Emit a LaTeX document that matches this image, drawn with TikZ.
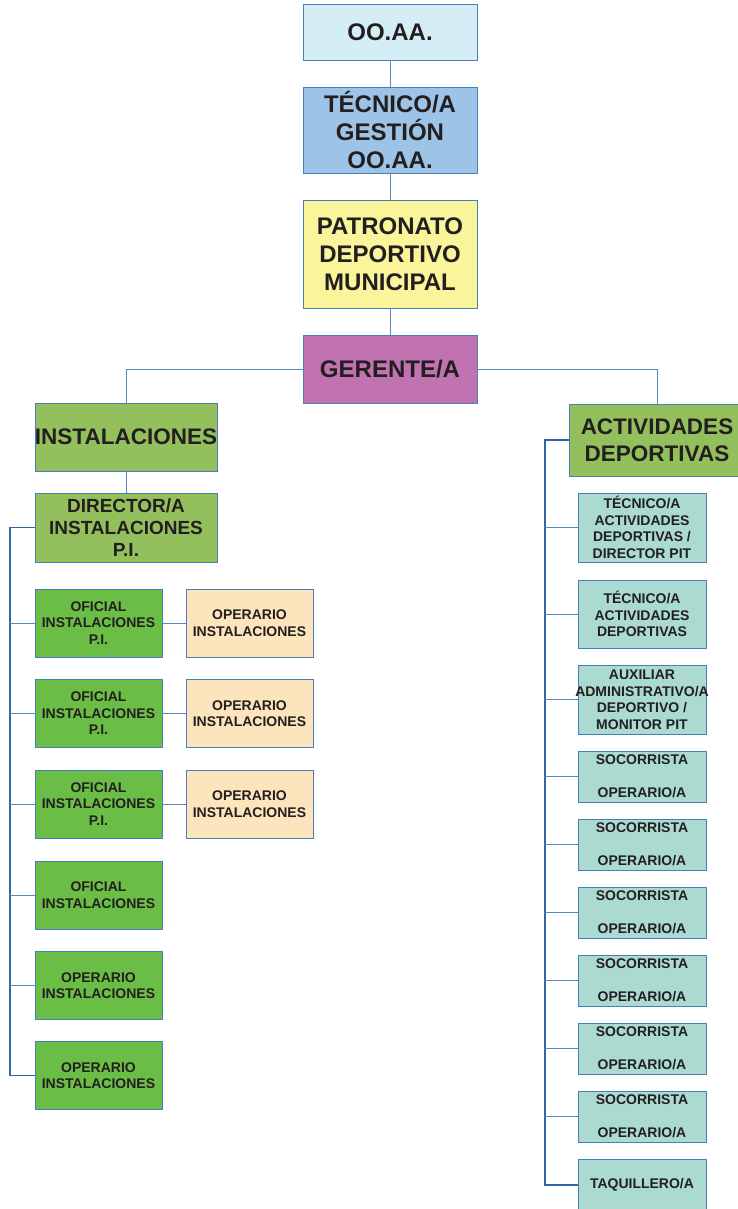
\documentclass[tikz,border=0pt]{standalone}
\usepackage{fontspec}
\setmainfont{Liberation Sans}
\begin{document}
\begin{tikzpicture}[x=1pt,y=-1pt,
  box/.style={draw=bordc, line width=0.8pt, inner sep=0pt, align=center, font=\bfseries, text=txtc},
  big/.style={box, font=\fontsize{24}{28}\selectfont\bfseries},
  mid/.style={box, font=\fontsize{22.5}{27}\selectfont\bfseries},
  dirf/.style={box, font=\fontsize{19}{22}\selectfont\bfseries},
  small/.style={box, font=\fontsize{14}{16.5}\selectfont\bfseries},
  smalltext/.style={inner sep=0pt, align=center, text=txtc, font=\fontsize{14}{16.5}\selectfont\bfseries},
  conn/.style={draw=connc, line width=0.8pt},
  spine/.style={draw=spinec, line width=1.3pt},
  lchild/.style={small, fill=ofic, minimum width=127pt, minimum height=68pt},
  opchild/.style={small, fill=oper, minimum width=127pt, minimum height=68pt},
  rchild/.style={small, fill=teal, minimum width=128pt},
]
\definecolor{bordc}{HTML}{4A7EBB}
\definecolor{connc}{HTML}{5B86C5}
\definecolor{spinec}{HTML}{3465A4}
\definecolor{txtc}{HTML}{231F20}
\definecolor{cyanl}{HTML}{D5EEF5}
\definecolor{bluel}{HTML}{9DC3E6}
\definecolor{yell}{HTML}{FAF59B}
\definecolor{purp}{HTML}{C072B1}
\definecolor{greenm}{HTML}{93BF5C}
\definecolor{ofic}{HTML}{6BBE45}
\definecolor{oper}{HTML}{FCE4BC}
\definecolor{teal}{HTML}{ABDBD0}
\useasboundingbox (0,0) rectangle (737,1209);

\node[big, fill=cyanl, minimum width=174pt, minimum height=56pt] (ooaa) at (390,32) {OO.AA.};
\node[big, fill=bluel, minimum width=174pt, minimum height=86pt] (tec) at (390,130) {TÉCNICO/A\\GESTIÓN\\OO.AA.};
\node[big, fill=yell, minimum width=174pt, minimum height=108pt] (pat) at (390,254) {PATRONATO\\DEPORTIVO\\MUNICIPAL};
\node[big, fill=purp, minimum width=174pt, minimum height=68pt] (ger) at (390,369) {GERENTE/A};
\node[mid, fill=greenm, minimum width=182pt, minimum height=68pt] (inst) at (126,437) {INSTALACIONES};
\node[dirf, fill=greenm, minimum width=182pt, minimum height=69pt] (dir) at (126,527.5) {DIRECTOR/A\\INSTALACIONES\\P.I.};
\node[mid, fill=greenm, minimum width=176pt, minimum height=72pt] (act) at (657,440) {ACTIVIDADES\\DEPORTIVAS};

% left children
\node[lchild] (c1) at (98.5,623) {OFICIAL\\INSTALACIONES\\P.I.};
\node[lchild] (c2) at (98.5,713.5) {OFICIAL\\INSTALACIONES\\P.I.};
\node[lchild] (c3) at (98.5,804) {OFICIAL\\INSTALACIONES\\P.I.};
\node[lchild] (c4) at (98.5,895) {OFICIAL\\INSTALACIONES};
\node[lchild] (c5) at (98.5,985.5) {OPERARIO\\INSTALACIONES};
\node[lchild] (c6) at (98.5,1075.5) {OPERARIO\\INSTALACIONES};
\node[opchild] (o1) at (249.5,623) {OPERARIO\\INSTALACIONES};
\node[opchild] (o2) at (249.5,713.5) {OPERARIO\\INSTALACIONES};
\node[opchild] (o3) at (249.5,804) {OPERARIO\\INSTALACIONES};

% right children
\node[rchild, minimum height=69pt] (r1) at (642,527.5) {TÉCNICO/A\\ACTIVIDADES\\DEPORTIVAS /\\DIRECTOR PIT};
\node[rchild, minimum height=68pt] (r2) at (642,614) {TÉCNICO/A\\ACTIVIDADES\\DEPORTIVAS};
\node[rchild, minimum height=69pt] (r3) at (642,699.5) {};
\node[smalltext] (r3t) at (r3) {AUXILIAR\\ADMINISTRATIVO/A\\DEPORTIVO /\\MONITOR PIT};
\node[rchild, minimum height=51pt] (s1) at (642,776.5) {SOCORRISTA\\[16.5pt]OPERARIO/A};
\node[rchild, minimum height=51pt] (s2) at (642,844.5) {SOCORRISTA\\[16.5pt]OPERARIO/A};
\node[rchild, minimum height=51pt] (s3) at (642,912.5) {SOCORRISTA\\[16.5pt]OPERARIO/A};
\node[rchild, minimum height=51pt] (s4) at (642,980.5) {SOCORRISTA\\[16.5pt]OPERARIO/A};
\node[rchild, minimum height=51pt] (s5) at (642,1048.5) {SOCORRISTA\\[16.5pt]OPERARIO/A};
\node[rchild, minimum height=51pt] (s6) at (642,1116.5) {SOCORRISTA\\[16.5pt]OPERARIO/A};
\node[rchild, minimum height=52pt] (taq) at (642,1185) {TAQUILLERO/A};

% connectors
\draw[conn] (ooaa.south) -- (tec.north);
\draw[conn] (tec.south) -- (pat.north);
\draw[conn] (pat.south) -- (ger.north);
\draw[conn] (ger.west) -| (inst.north);
\draw[conn] (ger.east) -| (act.north);
\draw[conn] (inst.south) -- (dir.north);

\coordinate (lsp) at (10,0);
\coordinate (rsp) at (545,0);
\draw[spine] (dir.west) -- (dir.west -| lsp) |- (c6.west);
\foreach \n in {c1,c2,c3,c4,c5} \draw[conn] (\n.west) -- (\n.west -| lsp);
\foreach \a/\b in {c1/o1,c2/o2,c3/o3} \draw[conn] (\a.east) -- (\b.west);

\draw[spine] (act.west) -- (act.west -| rsp) |- (taq.west);
\foreach \n in {r1,r2,r3,s1,s2,s3,s4,s5,s6} \draw[conn] (\n.west) -- (\n.west -| rsp);
\end{tikzpicture}
\end{document}
